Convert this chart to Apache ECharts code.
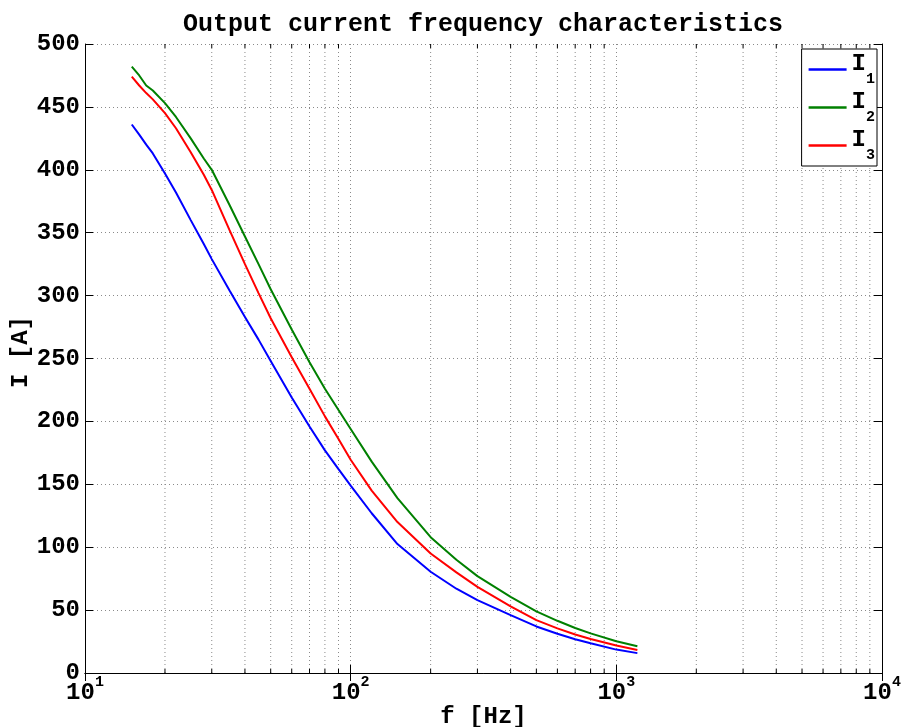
<!DOCTYPE html>
<html>
<head>
<meta charset="utf-8">
<title>Output current frequency characteristics</title>
<script src="https://cdn.jsdelivr.net/npm/echarts@6/dist/echarts.min.js"></script>
<style>
  html, body { margin: 0; padding: 0; background: #fff; }
  #chart { width: 904px; height: 727px; }
</style>
</head>
<body>
<div id="chart"></div>
<script>
// frequency points [Hz]
var freq = [15, 16, 17, 18, 20, 22, 25, 28, 30, 35, 40, 45, 50, 60, 70, 80, 90, 100,
  120, 150, 200, 250, 300, 400, 500, 600, 700, 800, 1000, 1200]
// currents [A]
var current1 = [436, 428, 420, 413, 397, 382, 360, 341, 329, 304, 283, 265, 248, 219, 196, 177, 162, 149,
  127, 102.5, 80.5, 67, 58, 46, 37, 31.2, 26.8, 23.6, 18.6, 15.8]
var current2 = [482, 475, 467, 463, 453, 442, 425, 409, 400, 372, 347, 325, 305, 273, 247, 226, 209, 194,
  168, 139, 108, 90, 77, 60.5, 49, 41.5, 35.8, 31.5, 25.3, 21.3]
var current3 = [474, 467, 461, 456, 445, 433, 414, 396, 384, 352, 325, 302, 282, 251, 226, 204, 186, 169.5,
  145, 120, 95, 80, 68.5, 53, 42, 35.5, 30.6, 27, 21.8, 18.3]
var seriesNames = ['I1', 'I2', 'I3']
var seriesColors = ['#0000ff', '#008000', '#ff0000']
// minor decade lines of the log axis
var minorFreq = [20, 30, 40, 50, 60, 70, 80, 90, 200, 300, 400, 500, 600, 700, 800, 900,
  2000, 3000, 4000, 5000, 6000, 7000, 8000, 9000]

var FONT = 'Liberation Mono'
var gridDot = { color: '#8a8a8a', width: 1, type: [1, 3] }

function pairs(values) {
  return freq.map(function(f, i) { return [f, values[i]] })
}

var chart = echarts.init(document.getElementById('chart'))

var lineSeries = [current1, current2, current3].map(function(vals, i) {
  return {
    name: seriesNames[i],
    type: 'line',
    data: pairs(vals),
    symbol: 'none',
    smooth: false,
    lineStyle: { color: seriesColors[i], width: 2 },
    itemStyle: { color: seriesColors[i] },
    z: 5
  }
})

var minorSeries = {
  type: 'custom',
  silent: true,
  data: minorFreq.map(function(f) { return [f, 0] }),
  encode: { x: 0, y: 1 },
  renderItem: function(params, api) {
    var f = api.value(0)
    var pb = api.coord([f, 0])
    var pt = api.coord([f, 500])
    return {
      type: 'group',
      children: [
        { type: 'line', shape: { x1: pb[0], y1: pb[1], x2: pt[0], y2: pt[1] },
          style: { stroke: gridDot.color, lineWidth: 1, lineDash: [1, 3] } },
        { type: 'line', shape: { x1: pb[0], y1: pb[1], x2: pb[0], y2: pb[1] - 4 },
          style: { stroke: '#000', lineWidth: 1 } },
        { type: 'line', shape: { x1: pt[0], y1: pt[1], x2: pt[0], y2: pt[1] + 4 },
          style: { stroke: '#000', lineWidth: 1 } }
      ]
    }
  },
  z: 1
}

var logLabel = function(v) {
  return '{b|10}{sup|' + Math.round(Math.log10(v)) + '}'
}

var option = {
  backgroundColor: '#fff',
  animation: false,
  title: {
    text: 'Output current frequency characteristics',
    left: 178,
    top: 7,
    textStyle: { fontFamily: FONT, fontWeight: 'bold', fontSize: 25, color: '#000' }
  },
  grid: { left: 85, right: 22, top: 44, bottom: 54, containLabel: false, outerBoundsMode: 'none' },
  legend: {
    data: seriesNames,
    orient: 'vertical',
    right: 27,
    top: 49,
    padding: [3, 2, 3, 7],
    itemGap: 3,
    icon: 'rect',
    itemWidth: 38,
    itemHeight: 2.5,
    borderColor: '#000',
    borderWidth: 1,
    backgroundColor: '#fff',
    formatter: function(name) {
      return '{b|I}{sub|' + name.slice(1) + '}'
    },
    textStyle: {
      fontFamily: FONT,
      fontWeight: 'bold',
      color: '#000',
      rich: {
        b: { fontFamily: FONT, fontWeight: 'bold', fontSize: 24, color: '#000', verticalAlign: 'top', lineHeight: 35 },
        sub: { fontFamily: FONT, fontWeight: 'bold', fontSize: 15, color: '#000', verticalAlign: 'bottom', lineHeight: 35 }
      }
    }
  },
  xAxis: [{
    type: 'log',
    logBase: 10,
    min: 10,
    max: 10000,
    name: 'f [Hz]',
    nameLocation: 'middle',
    nameGap: 32,
    nameMoveOverlap: false,
    nameTextStyle: { fontFamily: FONT, fontWeight: 'bold', fontSize: 24, color: '#000' },
    axisLine: { lineStyle: { color: '#000', width: 1 } },
    axisTick: { inside: true, length: 8, lineStyle: { color: '#000' } },
    axisLabel: {
      margin: 2,
      formatter: logLabel,
      rich: {
        b: { fontFamily: FONT, fontWeight: 'bold', fontSize: 24, color: '#000', verticalAlign: 'bottom', lineHeight: 30 },
        sup: { fontFamily: FONT, fontWeight: 'bold', fontSize: 15, color: '#000', verticalAlign: 'top', lineHeight: 30 }
      }
    },
    splitLine: { show: true, lineStyle: gridDot }
  }, {
    type: 'log',
    logBase: 10,
    min: 10,
    max: 10000,
    position: 'top',
    axisLine: { lineStyle: { color: '#000', width: 1 } },
    axisTick: { inside: true, length: 8, lineStyle: { color: '#000' } },
    axisLabel: { show: false },
    splitLine: { show: false }
  }],
  yAxis: [{
    type: 'value',
    min: 0,
    max: 500,
    interval: 50,
    name: 'I [A]',
    nameLocation: 'middle',
    nameGap: 52,
    nameRotate: 90,
    nameMoveOverlap: false,
    nameTextStyle: { fontFamily: FONT, fontWeight: 'bold', fontSize: 24, color: '#000', padding: [0, 0, 0, 13] },
    axisLine: { show: true, lineStyle: { color: '#000', width: 1 } },
    axisTick: { show: true, inside: true, length: 8, lineStyle: { color: '#000' } },
    axisLabel: { margin: 5, fontFamily: FONT, fontWeight: 'bold', fontSize: 24, color: '#000' },
    splitLine: { show: true, lineStyle: gridDot }
  }, {
    type: 'value',
    min: 0,
    max: 500,
    interval: 50,
    position: 'right',
    axisLine: { show: true, lineStyle: { color: '#000', width: 1 } },
    axisTick: { show: true, inside: true, length: 8, lineStyle: { color: '#000' } },
    axisLabel: { show: false },
    splitLine: { show: false }
  }],
  series: [minorSeries].concat(lineSeries)
}

chart.setOption(option)
</script>
</body>
</html>
